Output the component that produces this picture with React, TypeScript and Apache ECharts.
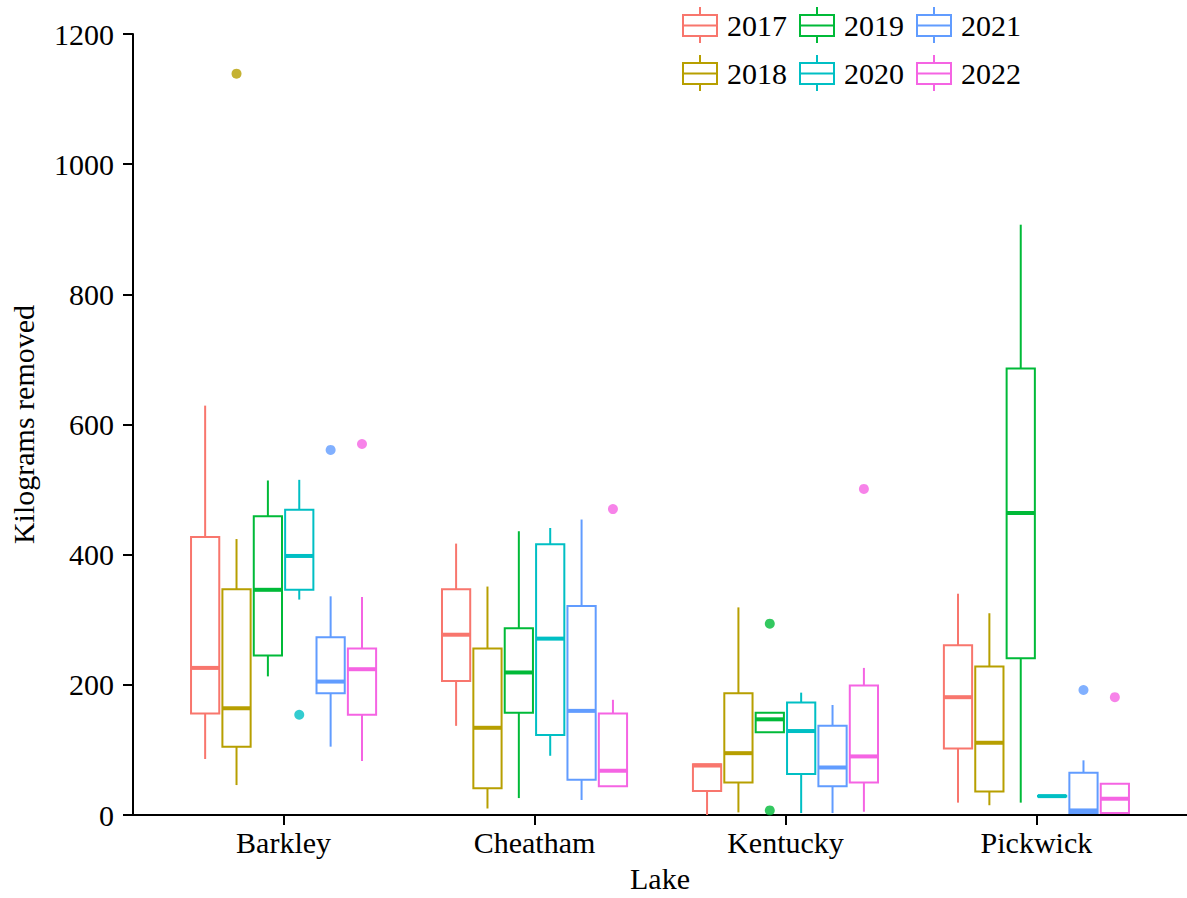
import React, { useEffect, useRef } from "react";
import * as echarts from "echarts";

const lakes = ["Barkley", "Cheatham", "Kentucky", "Pickwick"];
const years = ["2017", "2018", "2019", "2020", "2021", "2022"];
const colors = ["#F8766D", "#B79F00", "#00BA38", "#00BFC4", "#619CFF", "#F564E3"];

// [min, q1, median, q3, max] per lake (Barkley, Cheatham, Kentucky, Pickwick)
const stats2017 = [
  [86, 156, 226, 427, 629],
  [137, 206, 277, 347, 417],
  [0, 37, 76, 78, 78],
  [19, 102, 181, 261, 340],
];
const stats2018 = [
  [46, 105, 164, 347, 424],
  [10, 41, 134, 256, 351],
  [4, 50, 95, 187, 319],
  [15, 36, 111, 228, 310],
];
const stats2019 = [
  [213, 245, 346, 459, 514],
  [26, 157, 219, 287, 436],
  [127, 127, 147, 157, 157],
  [19, 241, 464, 686, 907],
];
const stats2020 = [
  [331, 346, 398, 469, 515],
  [91, 123, 271, 416, 441],
  [3, 63, 129, 173, 188],
  [28.5, 28.5, 29, 29.5, 29.5],
];
const stats2021 = [
  [105, 187, 205, 273, 336],
  [23, 54, 160, 321, 454],
  [3, 44, 73, 137, 169],
  [3, 3, 7, 65, 84],
];
const stats2022 = [
  [83, 154, 224, 256, 335],
  [44, 44, 68, 156, 177],
  [5, 50, 90, 199, 226],
  [3, 3, 25, 48, 48],
];
const allStats = [stats2017, stats2018, stats2019, stats2020, stats2021, stats2022];

// outliers: [lakeIndex, value]
const outliers2017: number[][] = [];
const outliers2018 = [[0, 1139]];
const outliers2019 = [[2, 294], [2, 7]];
const outliers2020 = [[0, 154]];
const outliers2021 = [[0, 561], [3, 192]];
const outliers2022 = [[0, 570], [1, 470], [2, 501], [3, 181]];
const allOutliers = [outliers2017, outliers2018, outliers2019, outliers2020, outliers2021, outliers2022];

const yTicks = [0, 200, 400, 600, 800, 1000, 1200];

const DODGE = 0.125;
const BOX_W = 0.1125;
const FONT = "'Liberation Serif', 'Times New Roman', serif";

const legendIcon =
  "path://M0 7H36V9H0Z M0 28H36V30H0Z M0 7H2V30H0Z M34 7H36V30H34Z M0 17.5H36V19.5H0Z M17 0H19V7H17Z M17 30H19V36H17Z";

export default function App() {
  const ref = useRef<HTMLDivElement>(null);
  useEffect(() => {
    if (!ref.current) return;
    const chart = echarts.init(ref.current, undefined, { renderer: "svg" });

    const boxSeries = years.map((yr, j) => ({
      type: "custom",
      name: yr,
      itemStyle: { color: colors[j] },
      encode: { x: 0, y: [1, 2, 3, 4, 5] },
      data: allStats[j].map((s, i) => [i + 1, ...s]),
      z: 2,
      renderItem: (params: any, api: any) => {
        const cx0 = (api.value(0) as number) + (j - 2.5) * DODGE;
        const pMin = api.coord([cx0, api.value(1)]);
        const pQ1 = api.coord([cx0, api.value(2)]);
        const pMd = api.coord([cx0, api.value(3)]);
        const pQ3 = api.coord([cx0, api.value(4)]);
        const pMax = api.coord([cx0, api.value(5)]);
        const hw = api.size([BOX_W, 0])[0] / 2;
        const cx = pMd[0];
        const c = colors[j];
        return {
          type: "group",
          children: [
            { type: "line", shape: { x1: cx, y1: pMax[1], x2: cx, y2: pQ3[1] }, style: { stroke: c, lineWidth: 2 } },
            { type: "line", shape: { x1: cx, y1: pQ1[1], x2: cx, y2: pMin[1] }, style: { stroke: c, lineWidth: 2 } },
            {
              type: "rect",
              shape: { x: cx - hw, y: pQ3[1], width: 2 * hw, height: pQ1[1] - pQ3[1] },
              style: { fill: "#ffffff", stroke: c, lineWidth: 2 },
            },
            { type: "line", shape: { x1: cx - hw, y1: pMd[1], x2: cx + hw, y2: pMd[1] }, style: { stroke: c, lineWidth: 4 } },
          ],
        };
      },
    }));

    const outlierSeries = years.map((yr, j) => ({
      type: "scatter",
      name: yr,
      symbol: "circle",
      symbolSize: 10,
      itemStyle: { color: colors[j] },
      data: allOutliers[j].map(([li, v]) => [li + 1 + (j - 2.5) * DODGE, v]),
      z: 3,
    }));

    const legendCommon = {
      orient: "horizontal",
      left: 682,
      padding: 0,
      itemWidth: 36,
      itemHeight: 36,
      itemGap: 12,
      icon: legendIcon,
      itemStyle: { borderWidth: 0 },
      textStyle: { fontFamily: FONT, fontSize: 30, color: "#000", padding: [0, 0, 0, 4] },
    };

    chart.setOption({
      animation: false,
      backgroundColor: "#ffffff",
      legend: [
        { ...legendCommon, top: 7, data: ["2017", "2019", "2021"] },
        { ...legendCommon, top: 55, data: ["2018", "2020", "2022"] },
      ],
      grid: { left: 131, right: 0, top: 34, bottom: 83, containLabel: false },
      xAxis: {
        type: "value",
        min: 0.4,
        max: 4.6,
        splitLine: { show: false },
        axisLine: { show: true, lineStyle: { color: "#000", width: 2 } },
        axisTick: { show: true, length: 10, lineStyle: { color: "#000", width: 2 }, customValues: [1, 2, 3, 4] },
        axisLabel: {
          customValues: [1, 2, 3, 4],
          formatter: (v: number) => lakes[Math.round(v) - 1] ?? "",
          fontFamily: FONT,
          fontSize: 30,
          color: "#000",
          margin: 12,
        },
        name: "Lake",
        nameLocation: "middle",
        nameGap: 48,
        nameTextStyle: { fontFamily: FONT, fontSize: 30, color: "#000" },
      },
      yAxis: {
        type: "value",
        min: 0,
        max: 1200,
        interval: 200,
        splitLine: { show: false },
        axisLine: { show: true, lineStyle: { color: "#000", width: 2 } },
        axisTick: { show: true, length: 10, lineStyle: { color: "#000", width: 2 }, customValues: yTicks },
        axisLabel: {
          customValues: yTicks,
          formatter: (v: number) => String(v),
          fontFamily: FONT,
          fontSize: 30,
          color: "#000",
          margin: 19,
        },
        name: "Kilograms removed",
        nameLocation: "middle",
        nameGap: 95,
        nameTextStyle: { fontFamily: FONT, fontSize: 30, color: "#000" },
      },
      series: [...boxSeries, ...outlierSeries],
    } as any);

    return () => chart.dispose();
  }, []);

  return (
    <div
      ref={ref}
      style={{ position: "fixed", left: 0, top: 0, width: 1187, height: 898, background: "#fff" }}
    />
  );
}
